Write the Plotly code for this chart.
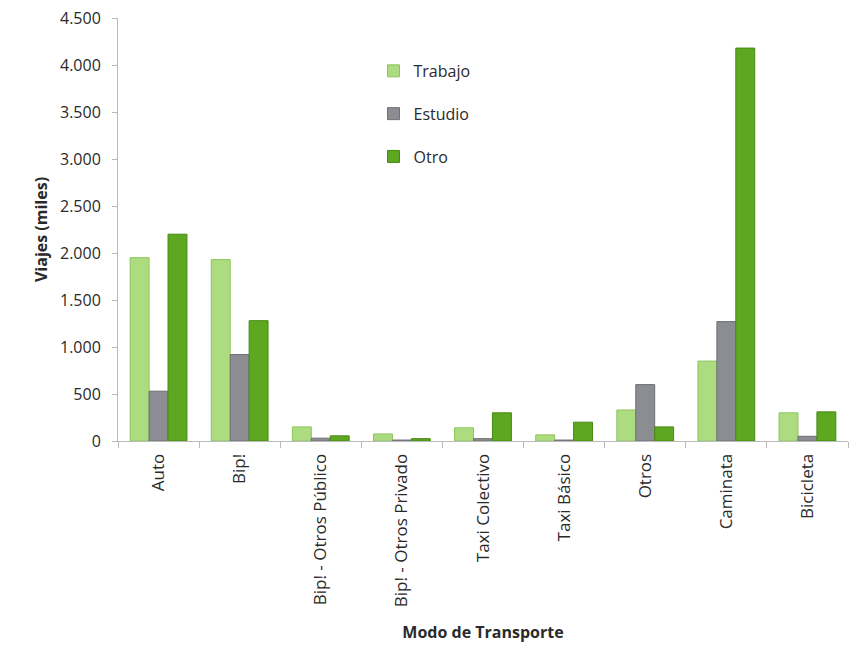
import plotly.graph_objects as go

# Trips by transport mode and purpose (thousands)
modos = ["Auto", "Bip!", "Bip! - Otros Público", "Bip! - Otros Privado",
         "Taxi Colectivo", "Taxi Básico", "Otros", "Caminata", "Bicicleta"]
trabajo = [1950, 1930, 150, 75, 140, 65, 330, 850, 300]
estudio = [530, 920, 30, 10, 25, 10, 600, 1270, 50]
otro = [2200, 1280, 55, 25, 300, 200, 150, 4180, 310]

series = [
    ("Trabajo", trabajo, "#addc80", "#8cc45c"),
    ("Estudio", estudio, "#8b8d92", "#6e7075"),
    ("Otro", otro, "#5ea721", "#478912"),
]

fig = go.Figure()
for i, (name, vals, color, edge) in enumerate(series):
    fig.add_trace(go.Bar(
        x=modos, y=vals, name=name, legendgroup=f"g{i}",
        marker=dict(color=color, line=dict(color=edge, width=1)),
    ))

font_family = "Open Sans, Liberation Sans, sans-serif"
text_color = "#2a2a2a"

fig.update_layout(
    width=852, height=650,
    margin=dict(l=118, r=4, t=18, b=209),
    paper_bgcolor="white", plot_bgcolor="white",
    barmode="group", bargap=0.3, bargroupgap=0,
    separators=",.",
    font=dict(family=font_family, size=16, color=text_color),
    showlegend=True,
    legend=dict(
        x=0.35, y=0.915, xanchor="left", yanchor="top",
        bgcolor="rgba(0,0,0,0)", font=dict(size=16, color=text_color),
        tracegroupgap=19, itemwidth=30,
    ),
    xaxis=dict(
        title=dict(text="<b>Modo de Transporte</b>", font=dict(size=16, color=text_color), standoff=20),
        tickangle=-90, tickson="boundaries", ticks="outside", ticklen=6,
        tickcolor="#bbbbbb", showline=True, linecolor="#bbbbbb", linewidth=1,
        tickfont=dict(size=17, color=text_color), ticklabelstandoff=5,
    ),
    yaxis=dict(
        title=dict(text="<b>Viajes (miles)</b>", font=dict(size=16, color=text_color), standoff=8),
        range=[0, 4500], dtick=500, tickformat=",d",
        ticks="outside", ticklen=5, tickcolor="#bbbbbb",
        showline=True, linecolor="#bbbbbb", linewidth=1,
        showgrid=False, zeroline=False,
        tickfont=dict(size=16, color=text_color), ticklabelstandoff=8,
    ),
)

fig.write_html("out.html")
